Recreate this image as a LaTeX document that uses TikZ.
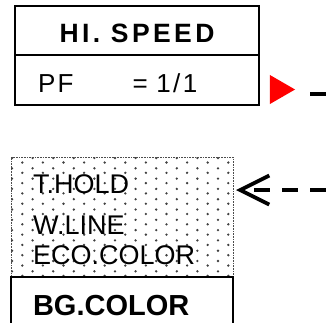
\documentclass[tikz,border=0pt]{standalone}
\usepackage{fontspec}
\setmainfont{Liberation Sans}
\usetikzlibrary{arrows.meta,positioning,shapes.geometric}

\begin{document}
\begin{tikzpicture}[x=1pt, y=-1pt, every node/.style={inner sep=0pt, outer sep=0pt}, box/.style={draw, line width=1.6pt, minimum width=244pt, text depth=0pt}, optbox/.style={draw=black!70, line width=0.8pt, dash pattern=on 0.8pt off 0.8pt}, item/.style={anchor=base west, font=\fontsize{27}{30}\selectfont}, dashline/.style={line width=3.5pt, dash pattern=on 16pt off 12pt, dash phase=16pt}]
\useasboundingbox (0,0) rectangle (336,322);
\node[box, minimum height=49pt, text height=23pt, font={\fontsize{26.5}{30}\selectfont\bfseries\addfontfeature{LetterSpace=12.8}}] (speed) at (137,30.5) {HI. SPEED};
\node[box, below=0pt of speed, minimum height=50pt, text height=24pt, text width=198pt, align=left, inner xsep=23pt, font={\fontsize{26}{30}\selectfont\addfontfeature{LetterSpace=9}}] (pf) {PF\hspace{59pt}= 1/1};
\node[regular polygon, regular polygon sides=3, shape border rotate=-90, fill=red, minimum size=33.5pt] (mark) at (278.3,89.5) {};
\coordinate (pfend) at (360,94);
\draw[dashline, dash phase=0pt, dash pattern=on 16pt off 14pt] ([xshift=15pt, yshift=-4.5pt]mark.corner 1) -- (pfend);
% dotted option block
\begin{scope}
\clip (11,157) rectangle (233,277);
\foreach \i in {0,...,21} \foreach \j in {0,...,11} \fill[black!75] ({12+10.3*\i}, {158+10.3*\j+4.5*mod(\i,2)}) circle (1.3pt);
\end{scope}
\node[optbox, minimum width=222pt, minimum height=120pt, anchor=north west] (opts) at (11,157) {};
\node[item] (thold) at (33,193) {T.HOLD};
\node[item] (wline) at (33,234) {W.LINE};
\node[item] (eco) at (33,264) {ECO.COLOR};
\node[box, minimum width=222pt, minimum height=52pt, text height=24pt, text width=178pt, align=left, inner xsep=22pt, anchor=north west, font={\fontsize{29}{34}\selectfont\bfseries}] (bg) at (11,277) {BG.COLOR};
\coordinate (optsend) at (350,190);
\draw[dashline, {Straight Barb[length=29pt, width=29pt, line width=3.8pt]}-] ([xshift=3pt, yshift=-33pt]opts.north east) -- (optsend);
\end{tikzpicture}
\end{document}
